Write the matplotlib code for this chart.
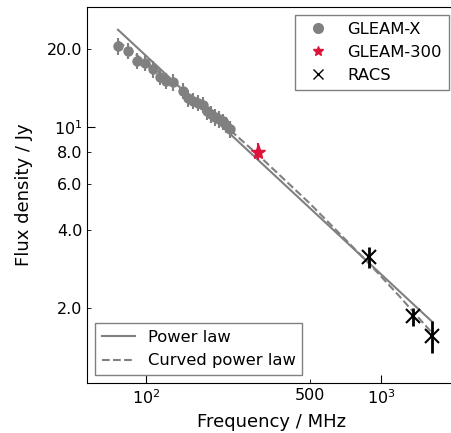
import numpy as np
import matplotlib.pyplot as plt
from matplotlib.ticker import FixedLocator, FormatStrFormatter, LogFormatterSciNotation
from matplotlib.lines import Line2D

# GLEAM-X sub-band measurements
gx_freq = [76, 84, 92, 99, 107, 115, 122, 130, 143, 151,
           158, 166, 174, 181, 189, 197, 204, 212, 220, 227]
gx_flux = [20.5, 19.7, 18.0, 17.7, 16.7, 15.6, 15.1, 14.9, 13.8, 12.9,
           12.6, 12.4, 12.2, 11.5, 11.2, 10.9, 10.7, 10.5, 10.2, 9.8]
gx_err = [1.5, 1.4, 1.3, 1.3, 1.2, 1.1, 1.1, 1.1, 1.0, 0.95,
          0.9, 0.9, 0.9, 0.85, 0.8, 0.8, 0.8, 0.75, 0.75, 0.7]

# GLEAM 300 MHz point
g300_freq = [300]
g300_flux = [8.04]
g300_err = [0.6]

# RACS points
racs_freq = [887.5, 1367.5, 1655]
racs_flux = [3.15, 1.86, 1.56]
racs_err = [0.3, 0.15, 0.22]

# model curves
pl_freq = [76, 1655]
pl_flux = [23.7, 1.77]
cpl_freq = [76, 100, 150, 200, 300, 500, 887.5, 1200, 1655]
cpl_flux = [21.4, 17.8, 13.4, 10.8, 7.8, 5.05, 2.98, 2.22, 1.60]

fig = plt.figure(figsize=(4.52, 4.33), dpi=100)
ax = fig.add_axes([0.1925, 0.1155, 0.818, 0.8683])

l1, = ax.plot(pl_freq, pl_flux, color='grey', lw=1.5, label='Power law')
l2, = ax.plot(cpl_freq, cpl_flux, color='grey', lw=1.5, ls='--', label='Curved power law')

ax.errorbar(gx_freq, gx_flux, yerr=gx_err, fmt='o', color='grey', ms=6.5, elinewidth=1.5)
ax.errorbar(g300_freq, g300_flux, yerr=g300_err, fmt='*', color='crimson', ms=11, elinewidth=1.5)
ax.errorbar(racs_freq, racs_flux, yerr=racs_err, fmt='x', color='black', ms=10,
            mew=1.5, elinewidth=2)

# legend handles without error bars
h1 = Line2D([], [], ls='none', marker='o', color='grey', ms=7, label='GLEAM-X')
h2 = Line2D([], [], ls='none', marker='*', color='crimson', ms=7, label='GLEAM-300')
h3 = Line2D([], [], ls='none', marker='x', color='black', ms=7, label='RACS')

ax.set_xscale('log')
ax.set_yscale('log')
ax.set_xlim(56.1, 2100)
ax.set_ylim(1.03, 29)

ax.xaxis.set_minor_locator(FixedLocator([500]))
ax.xaxis.set_minor_formatter(FormatStrFormatter('%d'))
ax.yaxis.set_major_locator(FixedLocator([10]))
ax.yaxis.set_major_formatter(LogFormatterSciNotation())
ax.yaxis.set_minor_locator(FixedLocator([2, 4, 6, 8, 20]))
ax.yaxis.set_minor_formatter(FormatStrFormatter('%.1f'))
ax.tick_params(which='both', direction='in', labelsize=11.5)
ax.tick_params(which='major', length=6)
ax.tick_params(which='minor', length=3)

ax.set_xlabel('Frequency / MHz', fontsize=13, labelpad=5)
ax.set_ylabel('Flux density / Jy', fontsize=13, labelpad=10)

leg1 = ax.legend(handles=[h1, h2, h3], loc='upper right', fontsize=11.8,
                 fancybox=False, edgecolor='grey', framealpha=1)
ax.add_artist(leg1)
ax.legend(handles=[l1, l2], loc='lower left', fontsize=11.8,
          fancybox=False, edgecolor='grey', framealpha=1)

plt.savefig('out.png', dpi=100)
